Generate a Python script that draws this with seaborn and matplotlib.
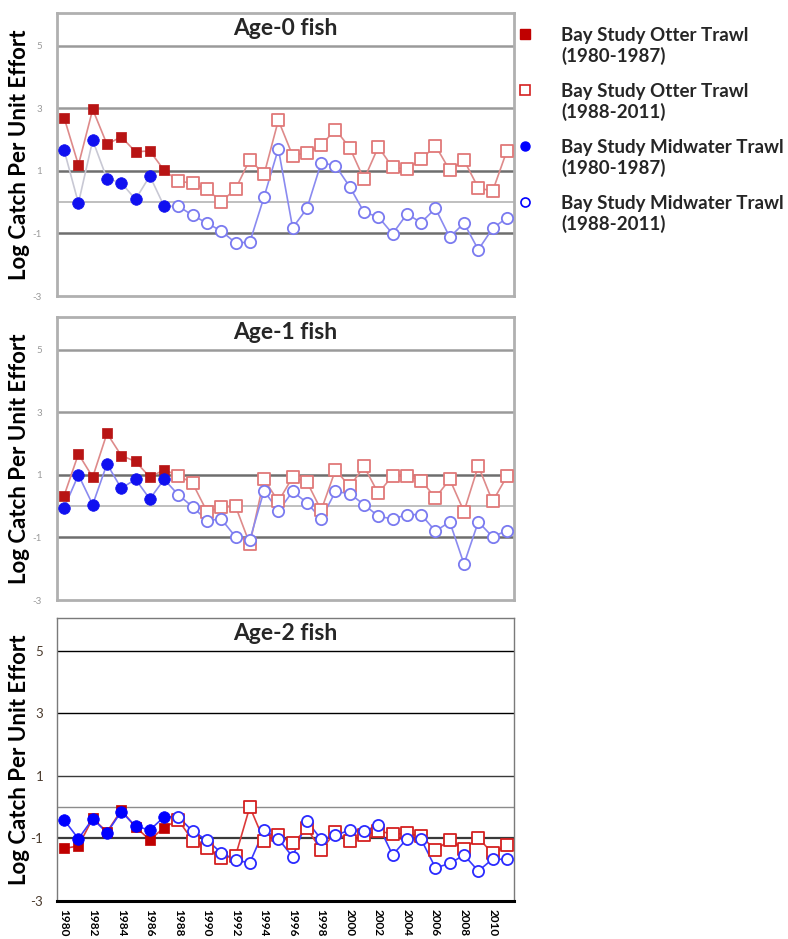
import numpy as np
import pandas as pd
import matplotlib
matplotlib.use("Agg")
import matplotlib.pyplot as plt
from matplotlib.lines import Line2D
from matplotlib.legend_handler import HandlerLine2D
import seaborn as sns

sns.set_theme(style="white")
plt.rcParams["font.family"] = ["Lato", "DejaVu Sans"]

years = list(range(1980, 2012))
split_year = 1988

# Age-0 fish
age0_otter = [2.70, 1.19, 2.97, 1.85, 2.09, 1.61, 1.64, 1.02,
              0.68, 0.60, 0.41, 0.02, 0.42, 1.36, 0.89, 2.62, 1.49, 1.58,
              1.83, 2.32, 1.74, 0.73, 1.77, 1.11, 1.06, 1.37, 1.81, 1.02,
              1.34, 0.46, 0.35, 1.64]
age0_midwater = [1.66, -0.03, 1.98, 0.75, 0.62, 0.09, 0.84, -0.13,
                 -0.13, -0.42, -0.67, -0.92, -1.30, -1.28, 0.17, 1.71, -0.82,
                 -0.20, 1.26, 1.17, 0.49, -0.32, -0.47, -1.01, -0.38, -0.65,
                 -0.20, -1.12, -0.67, -1.52, -0.84, -0.50]

# Age-1 fish
age1_otter = [0.34, 1.67, 0.93, 2.33, 1.62, 1.43, 0.93, 1.16,
              0.98, 0.73, -0.17, -0.04, 0.00, -1.21, 0.86, 0.15, 0.93, 0.78,
              -0.13, 1.16, 0.63, 1.27, 0.41, 0.98, 0.97, 0.82, 0.27, 0.86,
              -0.17, 1.29, 0.15, 0.95]
age1_midwater = [-0.05, 1.00, 0.05, 1.35, 0.57, 0.86, 0.23, 0.86,
                 0.36, -0.02, -0.46, -0.41, -0.98, -1.08, 0.50, -0.16, 0.47,
                 0.11, -0.41, 0.47, 0.40, 0.05, -0.32, -0.41, -0.27, -0.27,
                 -0.80, -0.50, -1.85, -0.50, -0.98, -0.78]

# Age-2 fish
age2_otter = [-1.32, -1.24, -0.36, -0.79, -0.10, -0.63, -1.05, -0.65,
              -0.41, -1.07, -1.30, -1.61, -1.56, 0.01, -1.07, -0.90, -1.16,
              -0.68, -1.37, -0.79, -1.09, -0.90, -0.76, -0.86, -0.84, -0.93,
              -1.37, -1.05, -1.34, -0.98, -1.48, -1.21]
age2_midwater = [-0.41, -1.01, -0.37, -0.82, -0.14, -0.61, -0.73, -0.31,
                 -0.31, -0.77, -1.05, -1.46, -1.69, -1.78, -0.73, -1.01, -1.59,
                 -0.44, -1.03, -0.90, -0.73, -0.77, -0.57, -1.53, -1.01, -1.03,
                 -1.94, -1.80, -1.53, -2.04, -1.66, -1.67]

panel_titles = ["Age-0 fish", "Age-1 fish", "Age-2 fish"]
ytick_values = [5, 3, 1, -1, -3]
legend_labels = ["Bay Study Otter Trawl\n(1980-1987)",
                 "Bay Study Otter Trawl\n(1988-2011)",
                 "Bay Study Midwater Trawl\n(1980-1987)",
                 "Bay Study Midwater Trawl\n(1988-2011)"]

panels = [(age0_otter, age0_midwater), (age1_otter, age1_midwater),
          (age2_otter, age2_midwater)]

# styles: the two upper panels are rendered in a softer palette
soft = dict(red_fill="#b81414", red_open="#e07878", red_line="#de8a8a",
            blue_fill="#1010f0", blue_open="#7a7af0", blue_line="#8a8af0",
            grid_major="#9a9a9a", grid_dark="#6e6e6e", grid_zero="#b4b4b4",
            spine="#b0b0b0", tick="#9a9a9a", sq=80, circ=66)
sharp = dict(red_fill="#c00000", red_open="#d42020", red_line="#dc3a3a",
             blue_fill="#0000ff", blue_open="#2a2aff", blue_line="#3a3aff",
             grid_major="#000000", grid_dark="#3a3a3a", grid_zero="#8c8c8c",
             spine="#7a7a7a", tick="#4a3a2c", sq=64, circ=64)


class FirstLineHandler(HandlerLine2D):
    """Place the legend marker next to the first line of a two-line label."""
    def create_artists(self, legend, orig_handle, xdescent, ydescent,
                       width, height, fontsize, trans):
        arts = super().create_artists(legend, orig_handle, xdescent, ydescent,
                                      width, height, fontsize, trans)
        for a in arts:
            a.set_ydata(np.asarray(a.get_ydata()) + 0.66 * fontsize)
        return arts


fig = plt.figure(figsize=(7.88, 9.39), dpi=100)
ax_w = 457 / 788
ax_h = 283 / 939
left = 57 / 788
bottoms = [1 - 296 / 939, 1 - 600 / 939, 1 - 901 / 939]

for i, ((otter, mid), title) in enumerate(zip(panels, panel_titles)):
    st = soft if i < 2 else sharp
    ax = fig.add_axes([left, bottoms[i], ax_w, ax_h])
    df = pd.DataFrame({"year": years * 2,
                       "value": otter + mid,
                       "gear": ["Otter"] * len(years) + ["Midwater"] * len(years)})
    df["period"] = np.where(df["year"] < split_year, "early", "late")

    # gridlines
    for g, c, lw in [(5, st["grid_major"], 1.8 if i < 2 else 1.0),
                     (3, st["grid_major"], 1.8 if i < 2 else 1.0),
                     (1, st["grid_dark"], 1.8 if i < 2 else 1.0),
                     (0, st["grid_zero"], 1.2 if i < 2 else 1.0),
                     (-1, st["grid_dark"], 1.8 if i < 2 else 1.6)]:
        ax.axhline(g, color=c, lw=lw, zorder=1)

    # connecting lines
    early_mid_line = "#c8c8d4" if i == 0 else st["blue_line"]
    for gear, col_early, col_late in [("Otter", st["red_line"], st["red_line"]),
                                      ("Midwater", early_mid_line, st["blue_line"])]:
        sub = df[df["gear"] == gear]
        e = sub[sub["year"] <= split_year]
        l = sub[sub["year"] >= split_year]
        sns.lineplot(data=e, x="year", y="value", color=col_early, lw=1.2,
                     ax=ax, zorder=2, legend=False)
        sns.lineplot(data=l, x="year", y="value", color=col_late, lw=1.2,
                     ax=ax, zorder=2, legend=False)

    # markers
    ot = df[df["gear"] == "Otter"]
    mw = df[df["gear"] == "Midwater"]
    sns.scatterplot(data=ot[ot["period"] == "early"], x="year", y="value",
                    marker="s", s=42, color=st["red_fill"], edgecolor=st["red_fill"],
                    linewidth=0.5, ax=ax, zorder=4, legend=False)
    sns.scatterplot(data=ot[ot["period"] == "late"], x="year", y="value",
                    marker="s", s=st["sq"], facecolor="white", edgecolor=st["red_open"],
                    linewidth=1.3, ax=ax, zorder=3, legend=False)
    sns.scatterplot(data=mw[mw["period"] == "early"], x="year", y="value",
                    marker="o", s=70, color=st["blue_fill"], edgecolor=st["blue_fill"],
                    linewidth=0.5, ax=ax, zorder=5, legend=False)
    sns.scatterplot(data=mw[mw["period"] == "late"], x="year", y="value",
                    marker="o", s=st["circ"], facecolor="white", edgecolor=st["blue_open"],
                    linewidth=1.3, ax=ax, zorder=4, legend=False)

    ax.set_xlim(1979.5, 2011.5)
    ax.set_ylim(-3, 6.05)
    ax.set_yticks(ytick_values)
    ax.set_yticklabels([str(v) for v in ytick_values])
    ax.tick_params(axis="y", length=0, pad=11 if i < 2 else 10,
                   labelsize=7 if i < 2 else 9.5, labelcolor=st["tick"])
    ax.set_ylabel("Log Catch Per Unit Effort", fontsize=16, fontweight="bold",
                  color="black")
    ax.yaxis.set_label_coords(-0.058, 0.5)
    ax.set_title(title, fontsize=16.5, fontweight="bold", y=0.915, va="center")

    for side, sp in ax.spines.items():
        sp.set_visible(True)
        sp.set_color(st["spine"])
        sp.set_linewidth(2.0 if i < 2 else 1.0)

    if i < 2:
        ax.set_xticks([])
        ax.set_xlabel("")
    else:
        ax.spines["bottom"].set_color("black")
        ax.spines["bottom"].set_linewidth(2.2)
        ax.set_xticks(years)
        ax.set_xticklabels([str(y) if y % 2 == 0 else "" for y in years],
                           rotation=-90, fontsize=8.5, fontweight="bold")
        ax.tick_params(axis="x", direction="in", length=4, width=1.5,
                       color="black", pad=6, labelcolor="black")
        for lab in ax.get_xticklabels():
            lab.set_verticalalignment("top")
        ax.set_xlabel("")

handles = [
    Line2D([], [], marker="s", ls="none", ms=6.5, color="#c00000"),
    Line2D([], [], marker="s", ls="none", ms=6.5, markerfacecolor="white",
           markeredgecolor="#d42020", markeredgewidth=1.2),
    Line2D([], [], marker="o", ls="none", ms=6.5, color="#0000ff"),
    Line2D([], [], marker="o", ls="none", ms=6.5, markerfacecolor="white",
           markeredgecolor="#0000ff", markeredgewidth=1.2),
]
fig.legend(handles, legend_labels, loc="upper left", bbox_to_anchor=(0.65, 0.975),
           frameon=False, prop={"weight": "bold", "size": 13.5},
           handletextpad=1.4, labelspacing=0.95, handlelength=1.0,
           borderaxespad=0, borderpad=0.2,
           handler_map={Line2D: FirstLineHandler()})

fig.savefig("out.png", dpi=100)
